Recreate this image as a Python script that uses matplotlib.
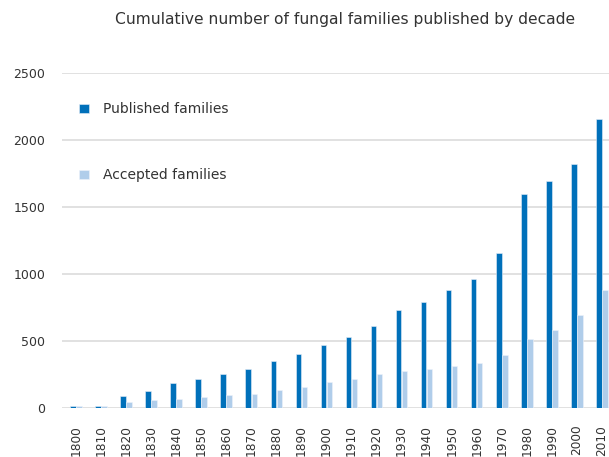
import matplotlib.pyplot as plt
import numpy as np

# data
decades = ["1800", "1810", "1820", "1830", "1840", "1850", "1860", "1870", "1880", "1890",
           "1900", "1910", "1920", "1930", "1940", "1950", "1960", "1970", "1980", "1990",
           "2000", "2010"]
published = [15, 14, 90, 125, 185, 220, 255, 290, 350, 405,
             470, 530, 610, 730, 790, 880, 960, 1160, 1597, 1694,
             1821, 2154]
accepted = [12, 12, 45, 60, 70, 80, 95, 105, 135, 160,
            195, 220, 255, 275, 290, 315, 333, 393, 512, 582,
            694, 880]

COLOR_PUB = "#0070ba"
COLOR_ACC = "#b0cdea"
TEXT = "#333333"

plt.rcParams["font.family"] = "DejaVu Sans"

fig = plt.figure(figsize=(6.09, 4.57), dpi=100)
ax = fig.add_axes([0.102, 0.107, 0.898, 0.733])

x = np.arange(len(decades))
w = 0.22
ax.bar(x - 0.12, published, w, color=COLOR_PUB, edgecolor="#e6eef7", linewidth=0.4,
       label="Published families", zorder=3)
ax.bar(x + 0.12, accepted, w, color=COLOR_ACC, edgecolor="#eef3fa", linewidth=0.4,
       label="Accepted families", zorder=3)

ax.set_ylim(0, 2500)
ax.set_xlim(-0.55, len(decades) - 0.72)
ax.set_yticks([0, 500, 1000, 1500, 2000, 2500])
ax.set_xticks(x)
ax.set_xticklabels(decades, rotation=90)
ax.tick_params(length=0, labelsize=9, colors=TEXT)
ax.tick_params(axis="x", pad=12, labelsize=8.7)
ax.tick_params(axis="y", pad=12)

ax.yaxis.grid(True, color="#dcdcdc", linewidth=1.2, zorder=0)
ax.set_axisbelow(True)
for s in ax.spines.values():
    s.set_visible(False)

ax.legend(loc="upper left", bbox_to_anchor=(0.008, 0.95), frameon=False,
          handlelength=0.7, handleheight=0.7, handletextpad=1.0,
          labelspacing=3.75, fontsize=10, labelcolor=TEXT)

fig.text(0.567, 0.958, "Cumulative number of fungal families published by decade",
         ha="center", va="center", fontsize=11.2, color=TEXT)

fig.savefig("out.png", dpi=100)
